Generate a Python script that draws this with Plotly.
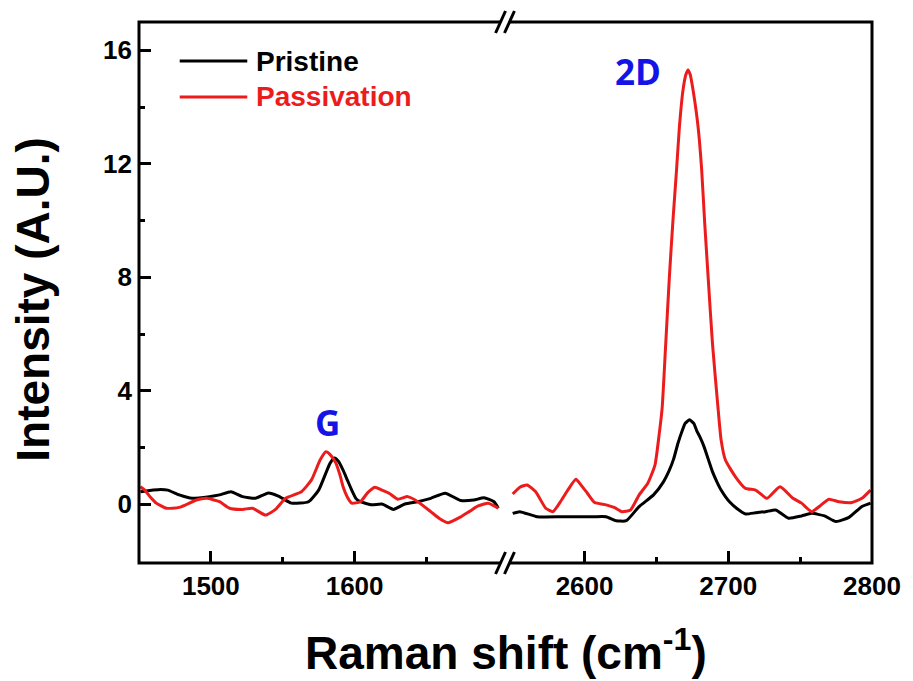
import plotly.graph_objects as go

# ---------------- data ----------------
pristine_left_x = [1451, 1455, 1460, 1465, 1470, 1478, 1487, 1499, 1506, 1514, 1522, 1531, 1540, 1547, 1556,
                   1568, 1575, 1580, 1583, 1586, 1589, 1592, 1595, 1598, 1601, 1604, 1612, 1619, 1627, 1635,
                   1644, 1653, 1663, 1674, 1683, 1690, 1697, 1700]
pristine_left_y = [0.44, 0.47, 0.5, 0.52, 0.5, 0.33, 0.21, 0.27, 0.33, 0.44, 0.27, 0.21, 0.4, 0.29, 0.04,
                   0.09, 0.5, 1.1, 1.45, 1.63, 1.5, 1.2, 0.85, 0.5, 0.2, 0.09, -0.02, 0.01, -0.18, 0.01,
                   0.09, 0.21, 0.39, 0.13, 0.15, 0.23, 0.09, -0.14]

passivation_left_x = [1451, 1454, 1458, 1462, 1469, 1478, 1490, 1497, 1506, 1513, 1522, 1529, 1538, 1545, 1552,
                      1563, 1570, 1576, 1580, 1583, 1587, 1590, 1592, 1595, 1598, 1604, 1609, 1614, 1619, 1624,
                      1630, 1637, 1644, 1653, 1659, 1665, 1674, 1680, 1686, 1693, 1700]
passivation_left_y = [0.62, 0.5, 0.25, 0.04, -0.14, -0.11, 0.15, 0.21, 0.09, -0.14, -0.18, -0.14, -0.38, -0.18, 0.21,
                      0.44, 0.86, 1.56, 1.85, 1.75, 1.45, 1.0, 0.62, 0.25, 0.04, 0.09, 0.4, 0.6, 0.5, 0.39,
                      0.18, 0.27, 0.09, -0.26, -0.5, -0.65, -0.44, -0.25, -0.06, 0.04, -0.14]

pristine_right_x = [2550, 2555, 2567, 2585, 2606, 2615, 2622, 2629, 2638, 2648, 2655, 2659, 2662, 2665, 2668,
                    2670, 2673, 2676, 2678, 2680, 2683, 2686, 2689, 2692, 2695, 2698, 2701, 2706, 2712, 2719,
                    2726, 2733, 2742, 2751, 2758, 2767, 2775, 2784, 2793, 2799]
pristine_right_y = [-0.32, -0.26, -0.44, -0.44, -0.44, -0.44, -0.58, -0.58, -0.08, 0.33, 0.8, 1.2, 1.6, 2.15, 2.6,
                    2.85, 2.98, 2.85, 2.6, 2.4, 2.05, 1.6, 1.15, 0.8, 0.5, 0.27, 0.08, -0.15, -0.34, -0.3,
                    -0.26, -0.2, -0.49, -0.41, -0.32, -0.41, -0.61, -0.46, -0.08, 0.04]

passivation_right_x = [2550, 2555, 2560, 2566, 2573, 2578, 2584, 2589, 2594, 2598, 2602, 2607, 2615, 2621, 2626,
                       2632, 2638, 2644, 2649, 2652, 2654, 2656.5, 2659, 2661.5, 2664, 2666, 2668.5, 2670.5, 2672,
                       2673.5, 2675.5, 2679, 2681.5, 2683.5, 2686, 2689, 2693, 2695, 2698, 2705, 2712, 2719, 2727,
                       2736, 2745, 2751, 2758, 2764, 2770, 2777, 2786, 2793, 2799]
passivation_right_y = [0.36, 0.6, 0.68, 0.44, -0.14, -0.26, 0.15, 0.55, 0.88, 0.65, 0.39, 0.06, -0.02, -0.12, -0.26,
                       -0.2, 0.33, 0.74, 1.38, 2.5, 3.4, 5.67, 8.0, 10.0, 11.78, 13.3, 14.6, 15.15, 15.31,
                       15.15, 14.6, 13.3, 11.78, 10.0, 8.0, 5.67, 3.32, 2.27, 1.56, 0.97, 0.56, 0.5, 0.21,
                       0.62, 0.21, 0.04, -0.26, -0.05, 0.18, 0.09, 0.06, 0.21, 0.5]

series_names = ["Pristine", "Passivation"]
left_ticks = [1500, 1600]
left_minor = [1550, 1650]
right_ticks = [2600, 2700, 2800]
right_minor = [2650, 2750]
y_ticks = [0, 4, 8, 12, 16]
y_minor = [2, 6, 10, 14]
peak_labels = ["G", "2D"]
peak_label_pos = [(1581, 2.9), (2637, 15.25)]

BLACK = "#000000"
RED = "#ec1c1c"
BLUE = "#1414e6"

# ---------------- geometry ----------------
W, H = 913, 681
L, R, T, B = 139, 877, 22, 563
PW, PH = R - L, B - T


def px(xp):
    return (xp - L) / PW


def py(yp):
    return (B - yp) / PH


fig = go.Figure()
line_kw = dict(width=3, shape="spline", smoothing=0.5)
fig.add_trace(go.Scatter(x=pristine_left_x, y=pristine_left_y, mode="lines", name=series_names[0],
                         line=dict(color=BLACK, **line_kw), xaxis="x", yaxis="y", showlegend=False))
fig.add_trace(go.Scatter(x=passivation_left_x, y=passivation_left_y, mode="lines", name=series_names[1],
                         line=dict(color=RED, **line_kw), xaxis="x", yaxis="y", showlegend=False))
fig.add_trace(go.Scatter(x=pristine_right_x, y=pristine_right_y, mode="lines", name=series_names[0],
                         line=dict(color=BLACK, **line_kw), xaxis="x2", yaxis="y", showlegend=False))
fig.add_trace(go.Scatter(x=passivation_right_x, y=passivation_right_y, mode="lines", name=series_names[1],
                         line=dict(color=RED, **line_kw), xaxis="x2", yaxis="y", showlegend=False))

tickfont = dict(family="Liberation Sans, Arial, sans-serif", size=26, color="black", weight="bold")
common_x = dict(showgrid=False, zeroline=False, showline=False, ticks="inside", ticklen=12, tickwidth=3,
                tickcolor="black", tickfont=tickfont, ticklabelstandoff=5)

fig.update_layout(
    width=W, height=H,
    margin=dict(l=L, r=W - R, t=T, b=H - B),
    paper_bgcolor="white", plot_bgcolor="white",
    xaxis=dict(domain=[0, 0.5], range=[1450, 1705], tickmode="array", tickvals=left_ticks,
               minor=dict(tickmode="array", tickvals=left_minor, ticks="inside", ticklen=6, tickwidth=3,
                          tickcolor="black"),
               anchor="y", **common_x),
    xaxis2=dict(domain=[0.5, 1], range=[2545, 2800], tickmode="array", tickvals=right_ticks,
                minor=dict(tickmode="array", tickvals=right_minor, ticks="inside", ticklen=6, tickwidth=3,
                           tickcolor="black"),
                anchor="y", **common_x),
    yaxis=dict(range=[-2.07, 17.0], tickmode="array", tickvals=y_ticks,
               minor=dict(tickmode="array", tickvals=y_minor, ticks="inside", ticklen=6, tickwidth=3,
                          tickcolor="black"),
               showgrid=False, zeroline=False, showline=False, ticks="inside", ticklen=12, tickwidth=3,
               tickcolor="black", tickfont=tickfont, ticklabelstandoff=6, anchor="x"),
)

shapes = []
# frame
shapes.append(dict(type="rect", xref="paper", yref="paper", x0=0, x1=1, y0=0, y1=1,
                   line=dict(color="black", width=3), layer="above"))
# break marks on bottom and top borders
for yl in (B, T):
    c1, c2 = 503, 512
    d, h = 5, 11
    poly = (f"M {px(c1 - d)} {py(yl + h)} L {px(c2 - d)} {py(yl + h)} "
            f"L {px(c2 + d)} {py(yl - h)} L {px(c1 + d)} {py(yl - h)} Z")
    shapes.append(dict(type="path", xref="paper", yref="paper", path=poly,
                       fillcolor="white", line=dict(width=0), layer="above"))
    for c in (c1, c2):
        shapes.append(dict(type="line", xref="paper", yref="paper",
                           x0=px(c - d), y0=py(yl + h), x1=px(c + d), y1=py(yl - h),
                           line=dict(color="black", width=3), layer="above"))
# legend lines
leg_colors = [BLACK, RED]
leg_y = [61, 97]
for col, yy in zip(leg_colors, leg_y):
    shapes.append(dict(type="line", xref="paper", yref="paper", x0=px(180), x1=px(248),
                       y0=py(yy), y1=py(yy), line=dict(color=col, width=3)))
fig.update_layout(shapes=shapes)

ann = []
legfont = "Liberation Sans, Arial, sans-serif"
for name, col, yy in zip(series_names, leg_colors, leg_y):
    ann.append(dict(xref="paper", yref="paper", x=px(255), y=py(yy), text=name, showarrow=False,
                    xanchor="left", yanchor="middle",
                    font=dict(family=legfont, size=28, color=col, weight="bold")))
for lab, (lx, ly), xr in zip(peak_labels, peak_label_pos, ["x", "x2"]):
    ann.append(dict(xref=xr, yref="y", x=lx, y=ly, text=lab, showarrow=False,
                    xanchor="center", yanchor="middle",
                    font=dict(family="Open Sans, sans-serif", size=35, color=BLUE, weight="bold")))
ann.append(dict(xref="paper", yref="paper", x=px(508), y=py(650), text="Raman shift (cm<sup>-1</sup>)",
                showarrow=False, xanchor="center", yanchor="middle",
                font=dict(family=legfont, size=46, color="black", weight="bold")))
ann.append(dict(xref="paper", yref="paper", x=px(32), y=py(299), text="Intensity (A.U.)", textangle=-90,
                showarrow=False, xanchor="center", yanchor="middle",
                font=dict(family=legfont, size=46, color="black", weight="bold")))
fig.update_layout(annotations=ann)

fig.write_html("out.html")
